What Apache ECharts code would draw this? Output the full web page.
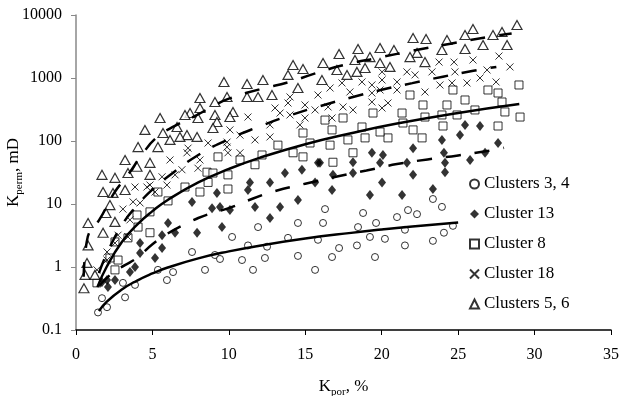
<!DOCTYPE html>
<html>
<head>
<meta charset="utf-8">
<script src="https://cdn.jsdelivr.net/npm/echarts@6/dist/echarts.min.js"></script>
<style>
  html, body { margin: 0; padding: 0; background: #fff; }
  #chart { width: 619px; height: 396px; }
</style>
</head>
<body>
<div id="chart"></div>
<script>
const FONT = '"Liberation Serif", "Times New Roman", serif';

const seriesNames = ['Clusters 3, 4', 'Cluster 13', 'Cluster 8', 'Cluster 18', 'Clusters 5, 6'];

// [Kpor %, Kperm mD]
const clusters34 = [
  [1.44, 0.19], [2.03, 0.23], [1.7, 0.32], [3.07, 0.56], [3.21, 0.33], [3.86, 0.52],
  [5.36, 0.9], [5.95, 0.62], [6.35, 0.83], [7.59, 1.73], [8.44, 0.9], [9.09, 1.55],
  [9.42, 1.34], [10.21, 3.0], [10.86, 1.29], [11.25, 2.2], [11.58, 0.9], [11.91, 4.3],
  [12.36, 1.39], [12.5, 2.1], [13.87, 2.9], [14.52, 5.0], [14.52, 1.5], [15.64, 0.9],
  [15.83, 2.7], [16.16, 5.0], [16.29, 8.3], [16.75, 1.44], [17.21, 2.0], [18.38, 2.2],
  [18.45, 4.3], [18.78, 7.2], [19.23, 3.0], [19.56, 1.44], [19.63, 5.0], [20.21, 2.8],
  [21.0, 6.2], [21.52, 2.2], [21.52, 3.9], [21.72, 8.0], [22.31, 6.9], [23.35, 2.6],
  [23.35, 12], [23.94, 9.0], [24.07, 3.5], [24.66, 4.5]
];

const cluster13 = [
  [15.83, 45], [14.78, 35], [13.67, 31], [12.69, 22], [11.38, 22], [11.25, 16.7],
  [9.22, 15.0], [15.64, 22], [7.59, 10.8], [9.42, 9.0], [8.9, 8.6], [10.07, 8.0],
  [11.71, 9.0], [13.35, 9.0], [14.52, 11.6], [12.69, 6.0], [9.55, 4.3], [7.92, 3.5],
  [6.48, 3.5], [6.02, 5.0], [5.63, 3.2], [5.63, 2.0], [5.17, 1.39], [4.19, 2.4],
  [4.19, 1.67], [3.86, 1.0], [3.53, 0.83], [2.55, 0.62], [2.03, 0.62], [2.09, 0.48],
  [1.7, 0.58], [25.45, 180], [26.43, 173], [25.12, 124], [27.61, 93], [23.94, 104],
  [22.05, 77], [24.07, 65], [24.14, 45], [24.14, 32], [25.78, 50], [26.76, 65],
  [19.89, 45], [19.36, 65], [20.08, 60], [21.65, 45], [22.05, 29], [20.02, 22],
  [18.12, 46], [18.12, 31], [16.81, 29], [15.96, 45], [16.75, 16.7], [19.23, 13.9],
  [21.33, 13.9], [23.35, 17.3]
];

const cluster8 = [
  [14.85, 134], [13.21, 86], [14.2, 65], [14.85, 56], [12.17, 60], [10.73, 50],
  [11.71, 42], [9.29, 56], [9.94, 29], [8.57, 32], [8.96, 31], [8.64, 22],
  [7.13, 18.6], [5.36, 15.5], [8.11, 15.5], [9.94, 17.3], [6.02, 11.2], [3.99, 6.7],
  [4.84, 7.5], [4.06, 4.3], [4.84, 3.5], [3.4, 2.9], [2.55, 2.5], [2.75, 1.29],
  [2.55, 0.9], [1.37, 0.56], [2.22, 1.39], [28.98, 775], [26.95, 645], [27.61, 578],
  [27.87, 416], [24.66, 645], [25.45, 448], [24.27, 373], [22.7, 373], [21.85, 537],
  [21.33, 278], [22.83, 240], [23.94, 259], [24.93, 259], [28.06, 289], [29.05, 240],
  [26.1, 311], [27.61, 173], [24.01, 173], [21.39, 193], [22.05, 150], [22.64, 112],
  [20.41, 112], [19.89, 139], [19.43, 278], [18.71, 167], [18.91, 112], [18.12, 65],
  [17.47, 232], [16.75, 150], [16.29, 215], [16.62, 86], [16.81, 46], [17.79, 104],
  [15.31, 93]
];

const cluster18 = [
  [15.83, 537], [14.0, 500], [13.87, 401], [13.02, 334], [14.98, 373], [14.98, 232],
  [14.65, 180], [14.0, 259], [13.35, 278], [12.69, 180], [12.69, 116], [11.25, 240],
  [10.73, 124], [11.71, 104], [10.07, 150], [9.88, 96], [9.88, 80], [10.73, 65],
  [9.94, 65], [7.33, 77], [7.26, 65], [8.11, 50], [7.98, 37], [8.64, 93], [6.15, 50],
  [6.93, 35], [6.48, 29], [5.63, 27], [5.95, 20], [4.84, 20], [3.86, 18.6], [4.64, 18.6],
  [5.17, 15.5], [28.39, 1500], [27.67, 2230], [25.97, 1930], [24.73, 1790], [23.75, 1790],
  [26.89, 1340], [26.43, 1000], [27.48, 865], [24.79, 1250], [24.6, 834], [23.81, 775],
  [25.58, 834], [23.29, 1250], [22.83, 600], [22.18, 1120], [21.65, 1250], [21.0, 865],
  [21.0, 645], [20.02, 1250], [20.02, 930], [19.89, 645], [19.36, 578], [20.41, 401],
  [20.02, 334], [19.36, 416], [19.36, 775], [18.71, 865], [17.92, 600], [17.4, 834],
  [16.62, 694], [16.49, 347], [17.47, 347], [18.12, 311], [15.64, 311], [16.75, 232],
  [3.73, 10.8], [4.19, 10.4], [3.07, 8.3], [3.53, 5.6], [3.4, 3.0], [2.75, 3.2],
  [2.55, 2.4], [2.03, 1.73], [2.03, 1.29], [1.37, 0.9]
];

const clusters56 = [
  [14.2, 1610], [14.85, 1390], [13.87, 1120], [12.23, 930], [11.19, 804], [9.68, 865],
  [8.11, 482], [9.09, 416], [9.88, 500], [10.27, 289], [11.19, 500], [11.91, 500],
  [12.82, 537], [14.52, 694], [8.11, 334], [7.46, 278], [7.13, 259], [7.98, 232],
  [9.09, 259], [9.22, 200], [10.07, 240], [8.96, 161], [6.61, 167], [7.26, 124],
  [7.92, 116], [6.8, 116], [5.5, 232], [4.51, 150], [5.69, 134], [6.15, 104],
  [5.36, 80], [4.06, 80], [4.84, 45], [3.21, 50], [3.99, 39], [3.4, 31], [2.55, 26],
  [1.7, 29], [4.84, 29], [1.77, 15.5], [2.42, 15.0], [3.21, 16.7], [2.22, 9.6],
  [1.96, 7.2], [0.79, 5.0], [2.55, 5.2], [1.77, 3.5], [0.79, 2.2], [0.72, 1.16],
  [0.59, 0.75], [0.52, 0.46], [1.24, 0.75], [28.85, 6940], [27.87, 5370], [27.28, 4820],
  [25.97, 6000], [25.45, 4820], [24.27, 4010], [22.9, 4160], [22.05, 4310], [28.2, 3340],
  [26.63, 3340], [25.45, 2890], [23.94, 2780], [22.31, 2500], [21.85, 2150], [22.83, 1790],
  [20.8, 2780], [19.89, 2990], [18.45, 2890], [17.21, 2400], [19.23, 2150], [18.25, 1930],
  [19.89, 1730], [20.54, 1500], [18.91, 1440], [18.38, 1250], [17.73, 1120], [16.16, 1730],
  [17.07, 1340], [16.09, 930]
];

// trend lines
const trend34 = [
  [1.5, 0.2], [2, 0.28], [3, 0.44], [4, 0.61], [5, 0.79], [6, 0.98], [8, 1.37],
  [10, 1.77], [12, 2.18], [15, 2.83], [18, 3.48], [20, 3.93], [22, 4.39], [25, 5.09]
];
const trend8 = [
  [1.4, 0.48], [2, 1.0], [3, 2.5], [4, 4.7], [5, 7.7], [6, 11.6], [8, 22], [10, 36],
  [12, 54], [15, 89], [18, 133], [21, 189], [25, 279], [29, 387]
];
const trend13 = [
  [1.5, 0.5], [2.5, 0.85], [3.2, 1.07], [4, 1.4], [5, 2.3], [6, 3.4], [7, 4.6], [8, 6.0],
  [9, 7.3], [10, 8.6], [11.5, 12], [13, 16], [15, 21], [17, 27], [19, 34], [21, 43],
  [23, 51], [25, 59], [27, 70], [28, 78]
];
const trend18 = [
  [1.5, 0.8], [2, 1.6], [3, 4.6], [4, 9.5], [5, 17], [6, 27], [8, 60], [10, 107],
  [12, 170], [14, 255], [16, 360], [18, 490], [20, 650], [22, 830], [24, 1050],
  [26, 1300], [27.5, 1500]
];
const trend56 = [
  [0.5, 0.7], [0.7, 2.5], [1, 4], [1.5, 5.5], [2.5, 15], [3.4, 29], [4.3, 60], [5.3, 115],
  [6.5, 175], [7.8, 250], [9, 360], [10, 470], [12, 660], [14, 870], [15.5, 1150],
  [17.5, 1600], [20, 2150], [22, 2700], [24.5, 3500], [27, 4500], [28.5, 5100]
];

const xTicks = [0, 5, 10, 15, 20, 25, 30, 35];
const yTicks = [0.1, 1, 10, 100, 1000, 10000];

const chart = echarts.init(document.getElementById('chart'));

const scatterStyles = [
  { symbol: 'circle', symbolSize: 7, itemStyle: { color: '#fff', borderColor: '#000', borderWidth: 1 } },
  { symbol: 'diamond', symbolSize: [8, 10], itemStyle: { color: '#000', borderColor: '#000', borderWidth: 0 } },
  { symbol: 'rect', symbolSize: 8, itemStyle: { color: '#fff', borderColor: '#000', borderWidth: 1 } },
  { symbol: 'path://M0,0L10,10M10,0L0,10', symbolSize: 7, itemStyle: { color: '#000', borderColor: '#000', borderWidth: 1 } },
  { symbol: 'triangle', symbolSize: [10, 9], itemStyle: { color: '#fff', borderColor: '#000', borderWidth: 1.2 } },
];
const scatterData = [clusters34, cluster13, cluster8, cluster18, clusters56];

const series = seriesNames.map((name, i) => ({
  name: name,
  type: 'scatter',
  data: scatterData[i],
  symbol: scatterStyles[i].symbol,
  symbolSize: scatterStyles[i].symbolSize,
  itemStyle: scatterStyles[i].itemStyle,
  emphasis: { disabled: true },
  z: 2,
}));

const trendLine = (data, dashed) => ({
  type: 'line',
  data: data,
  showSymbol: false,
  smooth: true,
  silent: true,
  z: 3,
  lineStyle: { color: '#000', width: 2.5, type: dashed ? [15, 14] : 'solid' },
});

series.push(
  trendLine(trend34, false),
  trendLine(trend8, false),
  trendLine(trend13, true),
  trendLine(trend18, true),
  trendLine(trend56, true)
);

const option = {
  animation: false,
  backgroundColor: '#fff',
  textStyle: { fontFamily: FONT, color: '#000' },
  grid: { left: 76, right: 8, top: 15, bottom: 66, containLabel: false, outerBoundsMode: 'none' },
  legend: {
    data: seriesNames,
    orient: 'vertical',
    left: 464,
    top: 170,
    itemWidth: 9,
    itemHeight: 9,
    itemGap: 12,
    textStyle: { fontFamily: FONT, fontSize: 17, color: '#000', lineHeight: 18 },
  },
  xAxis: {
    type: 'value',
    min: xTicks[0],
    max: xTicks[xTicks.length - 1],
    interval: 5,
    name: '{a|K}{b|por}{a|, %}',
    nameLocation: 'middle',
    nameGap: 48,
    nameMoveOverlap: false,
    nameTextStyle: {
      rich: {
        a: { fontFamily: FONT, fontSize: 17, color: '#000' },
        b: { fontFamily: FONT, fontSize: 11, color: '#000', verticalAlign: 'bottom', padding: [0, 0, -3, 0] },
      },
    },
    axisLine: { lineStyle: { color: '#000', width: 1.5 } },
    axisTick: { show: true, length: 5, lineStyle: { color: '#000' } },
    axisLabel: { fontFamily: FONT, fontSize: 16, color: '#000', margin: 17 },
    splitLine: { show: false },
  },
  yAxis: {
    type: 'log',
    logBase: 10,
    min: yTicks[0],
    max: yTicks[yTicks.length - 1],
    name: '{a|K}{b|perm}{a|, mD}',
    nameLocation: 'middle',
    nameGap: 54,
    nameMoveOverlap: false,
    nameTextStyle: {
      rich: {
        a: { fontFamily: FONT, fontSize: 17, color: '#000' },
        b: { fontFamily: FONT, fontSize: 11, color: '#000', verticalAlign: 'bottom', padding: [0, 0, -3, 0] },
      },
    },
    axisLine: { show: true, lineStyle: { color: '#888', width: 1.5 } },
    axisTick: { show: true, length: 5, lineStyle: { color: '#888' } },
    axisLabel: {
      fontFamily: FONT,
      fontSize: 16,
      color: '#000',
      margin: 14,
      formatter: (v) => String(+Number(v).toPrecision(6)),
    },
    splitLine: { show: false },
  },
  series: series,
};

chart.setOption(option);
</script>
</body>
</html>
